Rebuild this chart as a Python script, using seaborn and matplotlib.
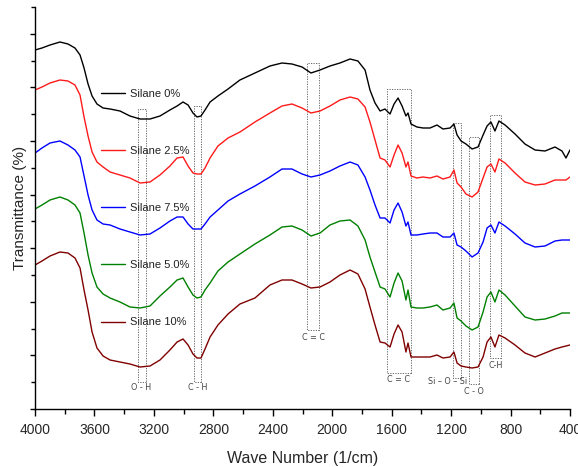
import numpy as np
import pandas as pd
import matplotlib

matplotlib.use("Agg")
import matplotlib.pyplot as plt
import seaborn as sns
from matplotlib.patches import Rectangle
from matplotlib.ticker import MultipleLocator

# FTIR spectra, stacked (arbitrary transmittance units)
wavenumber = [
    4000, 3953, 3899, 3832, 3778, 3731, 3697, 3670, 3643, 3616,
    3583, 3542, 3495, 3428, 3361, 3293, 3226, 3159, 3092, 3044,
    3004, 2970, 2937, 2910, 2883, 2856, 2822, 2769, 2701, 2621,
    2520, 2419, 2338, 2271, 2203, 2143, 2082, 2015, 1948, 1880,
    1827, 1779, 1746, 1712, 1678, 1645, 1611, 1584, 1557, 1530,
    1504, 1490, 1470, 1430, 1389, 1342, 1295, 1255, 1207, 1181,
    1160, 1133, 1100, 1059, 1019, 985, 958, 932, 905, 878,
    837, 770, 703, 635, 568, 501, 454, 427, 400,
]
silane_0 = [
    359, 361, 364, 367, 365, 361, 354, 341, 325, 313,
    305, 301, 300, 298, 293, 290, 290, 293, 299, 303,
    307, 304, 296, 292, 293, 299, 307, 313, 320, 329,
    336, 343, 346, 345, 342, 336, 339, 343, 346, 350,
    348, 339, 319, 306, 298, 300, 295, 305, 311, 303,
    293, 296, 285, 282, 281, 281, 284, 280, 281, 285,
    274, 268, 265, 260, 262, 274, 283, 287, 278, 288,
    284, 275, 265, 259, 258, 262, 258, 251, 259,
]
silane_2_5 = [
    319, 322, 326, 329, 328, 324, 314, 292, 273, 257,
    247, 242, 237, 234, 231, 226, 227, 234, 243, 251,
    252, 243, 236, 235, 235, 241, 251, 263, 271, 277,
    287, 296, 303, 305, 301, 296, 298, 303, 309, 312,
    310, 302, 287, 269, 251, 249, 242, 254, 264, 256,
    242, 247, 233, 231, 232, 231, 233, 230, 232, 239,
    226, 222, 215, 212, 217, 231, 242, 245, 237, 250,
    246, 236, 227, 224, 225, 229, 229, 229, 232,
]
silane_7_5 = [
    256, 261, 266, 268, 264, 259, 252, 233, 214, 199,
    189, 185, 184, 180, 177, 174, 175, 181, 188, 192,
    192, 185, 180, 180, 180, 185, 192, 199, 208, 215,
    223, 232, 240, 240, 235, 232, 234, 238, 243, 247,
    244, 232, 219, 204, 191, 191, 186, 199, 206, 197,
    183, 187, 174, 174, 175, 176, 176, 172, 172, 176,
    164, 162, 158, 152, 156, 167, 181, 184, 176, 187,
    183, 175, 166, 162, 163, 168, 169, 169, 169,
]
silane_5_0 = [
    200, 204, 209, 212, 209, 204, 196, 176, 154, 136,
    122, 115, 111, 107, 102, 101, 103, 113, 122, 129,
    131, 122, 114, 111, 112, 119, 126, 138, 147, 155,
    165, 174, 182, 183, 179, 173, 176, 184, 188, 189,
    183, 169, 152, 137, 122, 120, 112, 126, 136, 128,
    109, 119, 102, 101, 101, 102, 104, 99, 101, 106,
    91, 88, 83, 79, 82, 97, 112, 117, 107, 119,
    114, 103, 92, 89, 90, 93, 96, 96, 96,
]
silane_10 = [
    144, 148, 153, 157, 156, 151, 141, 119, 99, 77,
    61, 53, 49, 47, 45, 42, 43, 49, 59, 67,
    70, 64, 55, 51, 51, 60, 72, 84, 95, 105,
    111, 124, 129, 129, 125, 121, 122, 127, 134, 139,
    135, 120, 102, 84, 67, 66, 62, 75, 84, 77,
    57, 66, 52, 52, 52, 52, 54, 51, 52, 57,
    46, 43, 42, 41, 42, 52, 67, 72, 62, 74,
    71, 64, 56, 52, 56, 60, 62, 63, 64,
]

samples = ["Silane 0%", "Silane 2.5%", "Silane 7.5%", "Silane 5.0%", "Silane 10%"]
colors = ["#000000", "#ff1a1a", "#0000ff", "#008000", "#800000"]

# band assignment boxes
band_labels = ["O - H", "C - H", "C = C", "C = C", "Si \u2013 O \u2013 Si", "C - O", "C-H"]
band_wn_high = [3310, 2930, 2170, 1631, 1187, 1080, 938]
band_wn_low = [3255, 2885, 2090, 1470, 1133, 1012, 864]
band_bottom = [27, 27, 79, 36, 31, 25, 51]
band_top = [300, 303, 346, 320, 286, 272, 294]
band_label_wn = [3287, 2903, 2129, 1557, 1221, 1046, 898]
band_label_y = [21, 21, 71, 30, 27, 18, 43]

series = [silane_0, silane_2_5, silane_7_5, silane_5_0, silane_10]
df = pd.concat(
    [pd.DataFrame({"wn": wavenumber, "T": s, "sample": name}) for s, name in zip(series, samples)],
    ignore_index=True,
)

sns.set_style("ticks")
plt.rcParams["font.family"] = ["Liberation Sans", "DejaVu Sans"]

fig = plt.figure(figsize=(5.78, 4.67), dpi=100)
ax = fig.add_axes([35 / 578, 58 / 467, 535 / 578, 402 / 467])

sns.lineplot(
    data=df, x="wn", y="T", hue="sample", hue_order=samples, palette=colors,
    estimator=None, sort=False, lw=1.0, ax=ax,
)

for lab, hi, lo, b, t, lx, ly in zip(
    band_labels, band_wn_high, band_wn_low, band_bottom, band_top, band_label_wn, band_label_y
):
    ax.add_patch(Rectangle((lo, b), hi - lo, t - b, fill=False, ls=(0, (1.5, 1.5)),
                           lw=0.6, ec="#555555"))
    ax.text(lx, ly, lab, ha="center", va="center", fontsize=5.8, color="#444444",
            family="DejaVu Sans")

ax.set_xlim(4000, 400)
ax.set_ylim(0, 402)
ax.xaxis.set_major_locator(MultipleLocator(400))
ax.xaxis.set_minor_locator(MultipleLocator(200))
ax.yaxis.set_major_locator(MultipleLocator(53.6))
ax.yaxis.set_minor_locator(MultipleLocator(26.8))
ax.tick_params(which="both", direction="out", width=1.0, color="black")
ax.tick_params(axis="x", which="major", length=5, labelsize=10, pad=5)
ax.tick_params(axis="x", which="minor", length=3.5)
ax.tick_params(axis="y", which="major", length=3.6, labelleft=False)
ax.tick_params(axis="y", which="minor", length=2.9)
sns.despine(ax=ax)
for sp in ["left", "bottom"]:
    ax.spines[sp].set_linewidth(1.0)
    ax.spines[sp].set_color("black")

ax.set_xlabel("Wave Number (1/cm)", fontsize=11.5, labelpad=10)
ax.set_ylabel("Transmittance (%)", fontsize=11, labelpad=-0.5)

handles, labels = ax.get_legend_handles_labels()
ax.legend(
    handles, labels, loc="upper left", bbox_to_anchor=(0.123, 0.797), frameon=False,
    fontsize=8, labelspacing=4.25, handlelength=2.2, handletextpad=0.45,
    borderpad=0, borderaxespad=0, labelcolor="#222222",
)

fig.savefig("out.png", dpi=100)
